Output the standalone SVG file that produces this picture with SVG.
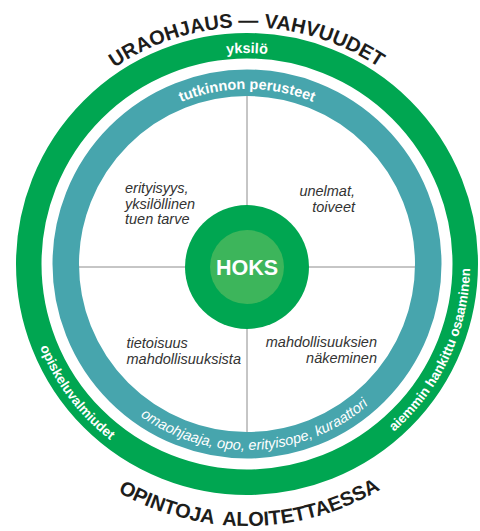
<svg xmlns="http://www.w3.org/2000/svg" width="480" height="531" viewBox="0 0 480 531">
  <style>
    .title { font-family: "Liberation Sans", Arial, sans-serif; font-weight: bold; font-size: 20px; fill: #1d1d1b; }
    .ringlbl { font-family: "Liberation Sans", Arial, sans-serif; font-weight: bold; fill: #ffffff; }
    .quad { font-family: "Liberation Sans", Arial, sans-serif; font-style: italic; font-size: 14.5px; fill: #333333; }
    .conn { stroke: #8c8c8c; stroke-width: 1; fill: none; }
  </style>
  <defs>
    <path id="pTitleTop" d="M 10,264 A 237 237 0 0 1 484,264"/>
    <path id="pTitleBot" d="M -15,264 A 262 262 0 0 0 509,264"/>
    <path id="pYksilo" d="M 36,264 A 211 211 0 0 1 458,264"/>
    <path id="pTutk" d="M 72,264 A 175 175 0 0 1 422,264"/>
    <path id="pOma" d="M 61,264 A 186 186 0 0 0 433,264"/>
    <path id="pSide" d="M 76.2,120.7 A 223 223 0 1 0 417.8,120.7"/>
  </defs>

  <g id="ring-yksilo">
    <circle cx="247" cy="264" r="218.25" fill="none" stroke="#00a651" stroke-width="25.5"/>
    <text class="ringlbl" font-size="14.5" text-anchor="middle"><textPath href="#pYksilo" startOffset="50%">yksilö</textPath></text>
    <text class="ringlbl" font-size="13.5" text-anchor="middle"><textPath href="#pSide" startOffset="299.7">opiskeluvalmiudet</textPath></text>
    <text class="ringlbl" font-size="13.5" text-anchor="middle"><textPath href="#pSide" startOffset="759">aiemmin hankittu osaaminen</textPath></text>
  </g>

  <g id="ring-tutkinto">
    <circle cx="247" cy="264" r="181.25" fill="none" stroke="#47a5ad" stroke-width="26.5"/>
    <text class="ringlbl" font-size="14.5" text-anchor="middle"><textPath href="#pTutk" startOffset="50%">tutkinnon perusteet</textPath></text>
    <text font-family="Liberation Sans, Arial, sans-serif" font-style="italic" font-size="14.5" fill="#ffffff" text-anchor="middle"><textPath href="#pOma" startOffset="51.6%">omaohjaaja, opo, erityisope, kuraattori</textPath></text>
  </g>

  <g id="connectors">
    <line class="conn" x1="247" y1="96" x2="247" y2="205"/>
    <line class="conn" x1="247" y1="329" x2="247" y2="432"/>
    <line class="conn" x1="79" y1="267" x2="185" y2="267"/>
    <line class="conn" x1="309" y1="267" x2="415" y2="267"/>
  </g>

  <g id="hoks">
    <circle cx="247" cy="267" r="62" fill="#00a651"/>
    <circle cx="247" cy="267" r="37" fill="#3db55b"/>
    <text x="247" y="274.5" text-anchor="middle" font-family="Liberation Sans, Arial, sans-serif" font-weight="bold" font-size="21.5" fill="#ffffff">HOKS</text>
  </g>

  <g id="q-erityisyys">
    <text class="quad" x="125" y="193">erityisyys,</text>
    <text class="quad" x="125" y="208.5">yksilöllinen</text>
    <text class="quad" x="125" y="224">tuen tarve</text>
  </g>
  <g id="q-unelmat">
    <text class="quad" x="355" y="196" text-anchor="end">unelmat,</text>
    <text class="quad" x="355" y="211.5" text-anchor="end">toiveet</text>
  </g>
  <g id="q-tietoisuus">
    <text class="quad" x="126.5" y="348">tietoisuus</text>
    <text class="quad" x="126.5" y="364">mahdollisuuksista</text>
  </g>
  <g id="q-mahdollisuuksien">
    <text class="quad" x="377" y="347" text-anchor="end">mahdollisuuksien</text>
    <text class="quad" x="377" y="363" text-anchor="end">näkeminen</text>
  </g>

  <g id="titles">
    <text class="title"><textPath href="#pTitleTop" startOffset="231.2">URAOHJAUS</textPath></text>
    <text class="title"><textPath href="#pTitleTop" startOffset="363.4">—</textPath></text>
    <text class="title"><textPath href="#pTitleTop" startOffset="389">VAHVUUDET</textPath></text>
    <text class="title" text-anchor="middle" word-spacing="4"><textPath href="#pTitleBot" startOffset="50.3%">OPINTOJA ALOITETTAESSA</textPath></text>
  </g>
</svg>
